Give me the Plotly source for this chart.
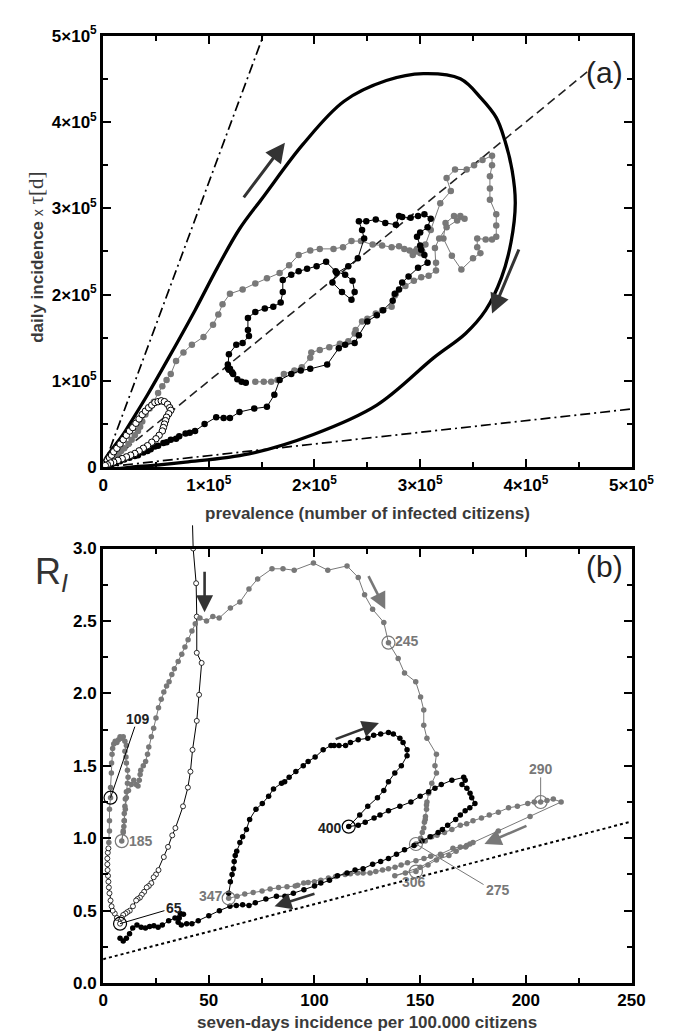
import plotly.graph_objects as go
import numpy as np

W, H = 682, 1034
FONT = "Liberation Sans, Arial, sans-serif"
GRAY = "#787878"
DARK = "#333333"

# ---------------- panel (a) data (units of 1e5) ----------------
A_SCALE = 1e5
A_TICKS = [0, 1, 2, 3, 4, 5]
A_TICKTEXT = ["0", "1×10<sup>5</sup>", "2×10<sup>5</sup>", "3×10<sup>5</sup>", "4×10<sup>5</sup>", "5×10<sup>5</sup>"]

loop_x = [0, 0.21, 0.42, 0.63, 0.87, 1.08, 1.29, 1.52, 1.89, 2.28, 2.68, 3.03, 3.38, 3.58, 3.72, 3.80, 3.87,
          3.90, 3.86, 3.77, 3.62, 3.43, 3.13, 2.59, 1.99, 1.38, 0.78, 0.33, 0]
loop_y = [0, 0.42, 0.84, 1.29, 1.82, 2.31, 2.76, 3.14, 3.74, 4.24, 4.48, 4.56, 4.50, 4.27, 4.05, 3.79, 3.44,
          3.06, 2.61, 2.20, 1.82, 1.55, 1.27, 0.72, 0.38, 0.155, 0.06, 0.01, 0]

diag_x = [0, 4.6]
diag_y = [0, 4.6]
steep_slope = 3.3
shallow_slope = 0.135

a_open_x = [0.01, 0.02, 0.04, 0.06, 0.08, 0.10, 0.13, 0.16, 0.19, 0.22, 0.25, 0.28, 0.31, 0.34, 0.37, 0.40, 0.43,
            0.46, 0.49, 0.52, 0.55, 0.58, 0.61, 0.63, 0.64, 0.62, 0.60, 0.59, 0.58, 0.57, 0.56, 0.53, 0.50, 0.46,
            0.42, 0.38, 0.34, 0.30, 0.26, 0.22, 0.18, 0.14, 0.10, 0.07, 0.04, 0.02]
a_open_y = [0.02, 0.04, 0.08, 0.11, 0.14, 0.18, 0.22, 0.27, 0.32, 0.37, 0.42, 0.46, 0.51, 0.56, 0.61, 0.65, 0.69,
            0.72, 0.75, 0.76, 0.77, 0.76, 0.73, 0.69, 0.66, 0.62, 0.58, 0.54, 0.50, 0.46, 0.42, 0.37, 0.33, 0.29,
            0.25, 0.22, 0.19, 0.16, 0.14, 0.12, 0.10, 0.08, 0.06, 0.05, 0.03, 0.02]

a_gray_x = [0.02, 0.04, 0.06, 0.08, 0.10, 0.12, 0.145, 0.17, 0.20, 0.24, 0.27, 0.30, 0.33, 0.35, 0.37, 0.40, 0.44,
            0.48, 0.52, 0.56, 0.60, 0.64, 0.69, 0.76, 0.84, 0.95, 1.04, 1.09, 1.13, 1.20, 1.32, 1.44, 1.55, 1.67,
            1.76, 1.85, 1.96, 2.05, 2.18, 2.27, 2.35, 2.44, 2.55, 2.64, 2.73, 2.80, 2.85, 2.90, 2.95, 3.00, 2.93,
            2.97, 3.02, 3.05, 3.10, 3.19, 3.29, 3.25, 3.33, 3.44, 3.51, 3.59, 3.68, 3.68, 3.66, 3.66, 3.66, 3.72,
            3.72, 3.72, 3.68, 3.62, 3.54, 3.54, 3.57, 3.50, 3.39, 3.30, 3.22, 3.24, 3.32, 3.38, 3.42, 3.35, 3.25,
            3.18, 3.14, 3.15, 3.15, 3.08, 3.01, 2.94, 2.86, 2.77, 2.76, 2.73, 2.64, 2.58, 2.50, 2.45, 2.39, 2.38,
            2.32, 2.24, 2.14, 2.05, 1.97, 1.96, 1.88, 1.81, 1.71, 1.65, 1.59, 1.52, 1.44]
a_gray_y = [0.02, 0.04, 0.06, 0.08, 0.10, 0.13, 0.155, 0.19, 0.22, 0.27, 0.32, 0.37, 0.42, 0.47, 0.53, 0.61, 0.68,
            0.76, 0.86, 0.94, 1.01, 1.08, 1.23, 1.33, 1.42, 1.51, 1.65, 1.77, 1.89, 2.01, 2.06, 2.13, 2.19, 2.25,
            2.34, 2.46, 2.51, 2.53, 2.53, 2.55, 2.62, 2.62, 2.58, 2.57, 2.55, 2.56, 2.53, 2.51, 2.50, 2.48, 2.46,
            2.53, 2.50, 2.58, 2.75, 3.06, 3.20, 3.35, 3.45, 3.45, 3.50, 3.56, 3.61, 3.50, 3.37, 3.23, 3.10, 2.93,
            2.80, 2.67, 2.64, 2.64, 2.65, 2.55, 2.48, 2.42, 2.29, 2.45, 2.65, 2.83, 2.91, 2.91, 2.88, 2.86, 2.78,
            2.65, 2.54, 2.37, 2.28, 2.22, 2.20, 2.16, 2.10, 2.01, 1.99, 1.86, 1.82, 1.78, 1.72, 1.69, 1.59, 1.55,
            1.46, 1.43, 1.39, 1.36, 1.33, 1.27, 1.16, 1.12, 1.08, 1.01, 0.99, 0.99, 0.99]

a_black_x = [0.01, 0.03, 0.05, 0.08, 0.12, 0.16, 0.20, 0.25, 0.30, 0.33, 0.38, 0.42, 0.45, 0.49, 0.52, 0.57, 0.60,
             0.64, 0.69, 0.72, 0.78, 0.82, 0.87, 0.96, 1.07, 1.14, 1.20, 1.29, 1.43, 1.55, 1.62, 1.67, 1.78, 1.87,
             1.96, 2.12, 2.23, 2.29, 2.38, 2.42, 2.50, 2.59, 2.65, 2.74, 2.76, 2.80, 2.83, 2.89, 2.98, 3.07, 3.04,
             3.01, 3.00, 2.97, 3.00, 3.07, 3.10, 3.04, 2.98, 2.91, 2.83, 2.80, 2.77, 2.67, 2.58, 2.49, 2.42, 2.45,
             2.47, 2.41, 2.32, 2.21, 2.17, 2.26, 2.35, 2.38, 2.36, 2.29, 2.20, 2.11, 2.02, 1.93, 1.85, 1.78, 1.70,
             1.70, 1.68, 1.61, 1.53, 1.44, 1.37, 1.37, 1.38, 1.32, 1.26, 1.19, 1.18, 1.18, 1.19, 1.20, 1.22, 1.23,
             1.27, 1.31, 1.35]
a_black_y = [0.01, 0.015, 0.02, 0.03, 0.05, 0.07, 0.09, 0.11, 0.13, 0.14, 0.17, 0.19, 0.21, 0.24, 0.25, 0.28, 0.29,
             0.32, 0.33, 0.36, 0.39, 0.40, 0.42, 0.50, 0.58, 0.57, 0.57, 0.64, 0.68, 0.70, 0.84, 1.01, 1.08, 1.12,
             1.14, 1.19, 1.38, 1.42, 1.44, 1.53, 1.69, 1.76, 1.82, 1.93, 2.01, 2.06, 2.14, 2.21, 2.31, 2.37, 2.46,
             2.52, 2.57, 2.67, 2.72, 2.78, 2.88, 2.93, 2.91, 2.89, 2.90, 2.91, 2.81, 2.83, 2.87, 2.85, 2.85, 2.75,
             2.65, 2.42, 2.33, 2.25, 2.14, 2.03, 1.94, 2.03, 2.16, 2.23, 2.27, 2.38, 2.33, 2.30, 2.27, 2.23, 2.17,
             2.03, 1.91, 1.86, 1.84, 1.80, 1.73, 1.59, 1.52, 1.44, 1.42, 1.31, 1.19, 1.15, 1.13, 1.14, 1.10, 1.08,
             1.02, 0.99, 0.98]

a_arrows = [((1.32, 3.11), (1.72, 3.76)), ((3.94, 2.54), (3.68, 1.78))]

# ---------------- panel (b) data ----------------
b_open_x = [42.6, 44.0, 44.3, 44.3, 46.6, 45.4, 44.3, 42.3, 41.3, 40.1, 37.8, 34.2, 32.7, 30.7, 28.7, 26.2, 25.0,
            23.9, 22.8, 21.6, 20.6, 19.4, 18.3, 17.4, 16.3, 15.6, 14.1, 12.6, 11.5, 10.6, 9.5, 8.8, 8.0, 6.5, 5.5,
            4.5, 4.0, 3.5, 3.0, 2.7, 2.5, 2.3, 2.1, 2.0, 2.0, 2.2, 2.5]
b_open_y = [3.0, 2.76, 2.53, 2.28, 2.21, 1.99, 1.81, 1.61, 1.46, 1.35, 1.22, 1.07, 1.02, 0.94, 0.87, 0.78, 0.75,
            0.73, 0.69, 0.67, 0.66, 0.63, 0.61, 0.59, 0.58, 0.57, 0.53, 0.50, 0.49, 0.48, 0.47, 0.45, 0.41, 0.45,
            0.48, 0.50, 0.53, 0.57, 0.62, 0.66, 0.70, 0.74, 0.78, 0.82, 0.86, 0.90, 0.93]

b_gray_x = [2.7, 3.0, 3.0, 3.0, 3.5, 3.5, 3.9, 4.0, 4.2, 4.5, 5.0, 5.7, 6.5, 7.3, 8.0, 8.8, 9.5, 10.3, 11.0, 10.3,
            10.8, 11.0, 11.5, 11.8, 11.5, 11.0, 10.5, 10.3, 10.0, 10.0, 9.8, 9.5, 8.8, 9.5, 10.0, 10.5, 11.0, 12.0,
            13.3, 14.5, 15.6, 16.5, 17.1, 17.5, 17.8, 19.0, 20.1, 21.0, 21.6, 22.8, 23.9, 25.0, 26.2, 27.5, 28.7,
            30.0, 31.2, 32.5, 33.7, 35.5, 37.2, 38.7, 40.2, 42.0, 43.6, 45.8, 48.9, 51.9, 54.9, 60.2, 64.7, 69.0,
            73.1, 79.9, 85.1, 90.4, 99.5, 106.3, 115.4, 120.7, 123.7, 127.5, 132.8, 135.0, 139.6, 142.6, 147.9,
            150.2, 151.7, 151.7, 153.2, 157.7, 157.0, 157.7, 155.5, 154.0, 153.2, 153.0, 153.0, 152.5, 152.4,
            152.0, 151.7, 151.0, 150.2, 148.0, 152.4, 155.5, 158.0, 161.5, 165.0, 169.0, 172.0, 175.0, 179.0,
            182.7, 187.0, 191.8, 196.0, 200.9, 204.0, 207.0, 210.0, 213.0, 216.7, 202.0, 187.0, 172.0, 160.0,
            150.0, 138.0, 143.0, 148.0, 153.7, 157.7, 163.6, 167.0, 171.5, 175.0, 173.5, 169.0, 165.5, 159.6,
            155.0, 151.8, 148.0, 144.0, 141.0, 138.1, 135.0, 132.2, 129.0, 126.3, 123.0, 120.4, 117.0, 114.5,
            110.0, 106.6, 103.0, 100.0, 97.0, 94.9, 92.0, 90.9, 87.0, 83.0, 79.0, 75.2, 71.0, 67.0, 63.4, 59.4]
b_gray_y = [0.97, 1.05, 1.12, 1.20, 1.28, 1.35, 1.45, 1.52, 1.58, 1.62, 1.65, 1.67, 1.66, 1.68, 1.70, 1.69, 1.70,
            1.67, 1.64, 1.60, 1.56, 1.52, 1.47, 1.42, 1.38, 1.32, 1.27, 1.22, 1.17, 1.12, 1.08, 1.04, 0.98, 1.05,
            1.12, 1.20, 1.28, 1.33, 1.37, 1.40, 1.37, 1.36, 1.40, 1.44, 1.47, 1.50, 1.53, 1.58, 1.63, 1.70, 1.76,
            1.83, 1.90, 1.96, 2.01, 2.05, 2.08, 2.13, 2.17, 2.22, 2.27, 2.32, 2.37, 2.43, 2.48, 2.52, 2.50, 2.53,
            2.52, 2.59, 2.63, 2.72, 2.79, 2.86, 2.86, 2.85, 2.90, 2.85, 2.88, 2.80, 2.68, 2.58, 2.49, 2.35, 2.24,
            2.14, 2.08, 1.975, 1.885, 1.78, 1.69, 1.58, 1.50, 1.45, 1.38, 1.31, 1.25, 1.23, 1.20, 1.15, 1.13, 1.11,
            1.07, 1.04, 1.00, 0.96, 0.98, 1.01, 1.02, 1.04, 1.06, 1.09, 1.10, 1.12, 1.14, 1.16, 1.18, 1.21, 1.22,
            1.24, 1.25, 1.25, 1.26, 1.27, 1.25, 1.15, 1.05, 0.95, 0.88, 0.80, 0.74, 0.76, 0.77, 0.815, 0.85, 0.88,
            0.91, 0.94, 0.97, 0.96, 0.94, 0.93, 0.89, 0.875, 0.86, 0.845, 0.83, 0.815, 0.80, 0.79, 0.78, 0.77,
            0.76, 0.76, 0.76, 0.755, 0.75, 0.735, 0.725, 0.71, 0.70, 0.695, 0.69, 0.675, 0.67, 0.665, 0.66, 0.65,
            0.635, 0.625, 0.615, 0.60, 0.585]

b_black_x = [59.4, 60.2, 61.0, 61.7, 62.0, 62.5, 63.2, 64.7, 66.0, 67.8, 69.3, 72.3, 75.3, 78.3, 80.6, 84.4, 85.9,
             88.0, 91.2, 94.7, 97.0, 100.3, 104.1, 107.8, 109.3, 111.6, 114.7, 117.0, 120.7, 125.2, 128.0, 131.3,
             135.0, 137.3, 140.4, 141.9, 143.8, 143.8, 141.1, 138.0, 135.0, 132.8, 129.8, 125.2, 121.4, 116.2,
             120.7, 124.0, 128.2, 131.0, 135.0, 140.4, 145.6, 150.0, 154.0, 157.0, 160.0, 165.0, 170.6, 171.3,
             169.8, 172.1, 173.6, 174.4, 175.9, 173.5, 171.3, 169.0, 166.8, 163.0, 160.5, 158.5, 154.7, 150.9,
             147.1, 142.6, 138.8, 135.0, 131.3, 127.5, 123.0, 119.2, 115.4, 110.9, 107.1, 103.0, 100.0, 95.0,
             90.0, 86.0, 82.0, 77.0, 72.0, 69.0, 66.0, 63.0, 60.0, 55.0, 50.0, 45.0, 42.0, 39.5, 37.0, 35.5, 36.0,
             38.0, 36.5, 34.0, 31.0, 28.0, 26.0, 24.0, 22.0, 20.0, 18.0, 16.0, 14.0, 12.5, 11.0, 9.5, 8.0]
b_black_y = [0.62, 0.70, 0.75, 0.79, 0.84, 0.88, 0.91, 0.97, 1.01, 1.06, 1.13, 1.20, 1.24, 1.29, 1.34, 1.38, 1.39,
             1.42, 1.46, 1.50, 1.53, 1.56, 1.61, 1.64, 1.64, 1.64, 1.64, 1.66, 1.68, 1.69, 1.71, 1.72, 1.73, 1.72,
             1.69, 1.66, 1.61, 1.57, 1.50, 1.45, 1.39, 1.33, 1.28, 1.22, 1.16, 1.08, 1.09, 1.11, 1.14, 1.16, 1.19,
             1.22, 1.25, 1.29, 1.32, 1.345, 1.37, 1.40, 1.42, 1.40, 1.37, 1.345, 1.31, 1.28, 1.24, 1.21, 1.19,
             1.16, 1.13, 1.09, 1.06, 1.04, 1.01, 0.98, 0.95, 0.92, 0.89, 0.86, 0.84, 0.82, 0.79, 0.78, 0.76, 0.74,
             0.71, 0.69, 0.67, 0.645, 0.62, 0.60, 0.60, 0.58, 0.555, 0.535, 0.54, 0.535, 0.53, 0.50, 0.465, 0.43,
             0.41, 0.41, 0.40, 0.42, 0.45, 0.475, 0.48, 0.45, 0.43, 0.40, 0.385, 0.395, 0.39, 0.38, 0.385, 0.40,
             0.38, 0.34, 0.31, 0.29, 0.31]

day_labels = ["65", "109", "185", "245", "275", "290", "306", "347", "400"]
day_x = [8.0, 3.5, 8.8, 135.0, 148.0, 207.0, 148.0, 59.4, 116.2]
day_y = [0.41, 1.28, 0.98, 2.35, 0.96, 1.25, 0.77, 0.585, 1.08]
day_gray = [False, False, True, True, True, True, True, True, False]
label_x = [33.4, 16.5, 18.0, 144.0, 187.0, 207.0, 147.0, 51.0, 107.3]
label_y = [0.52, 1.82, 0.98, 2.36, 0.64, 1.475, 0.695, 0.60, 1.07]
leader_end = {"65": (29.0, 0.50), "109": (15.0, 1.77), "275": (180.0, 0.68), "290": (207.0, 1.42)}

dotted_x = [0, 250]
dotted_intercept, dotted_slope = 0.165, 0.0038

b_arrows = [((48.0, 2.85), (48.0, 2.56), DARK), ((125.2, 2.82), (133.5, 2.58), GRAY),
            ((109.3, 1.68), (130.5, 1.795), DARK), ((201.0, 1.09), (180.4, 0.96), GRAY),
            ((100.7, 0.62), (81.1, 0.53), DARK)]

# ---------------- layout geometry ----------------
XL, XR = 94 / W, 645 / W
A_DOM = [(H - 457) / H, (H - 16) / H]
B_DOM = [(H - 984) / H, (H - 540) / H]

fig = go.Figure()

def sc(arr):
    return list(np.array(arr) * A_SCALE)

DASHDOT = "10px,4px,2px,4px"
# panel (a)
fig.add_trace(go.Scatter(x=sc([0, 5.0 / steep_slope]), y=sc([0, 5.0]), mode="lines",
                         line=dict(color="black", width=1.7, dash=DASHDOT), xaxis="x", yaxis="y"))
fig.add_trace(go.Scatter(x=sc([0, 5.0]), y=sc([0, 5.0 * shallow_slope]), mode="lines",
                         line=dict(color="black", width=1.7, dash=DASHDOT), xaxis="x", yaxis="y"))
fig.add_trace(go.Scatter(x=sc(diag_x), y=sc(diag_y), mode="lines",
                         line=dict(color="#222", width=1.6, dash="9px,5px"), xaxis="x", yaxis="y"))
fig.add_trace(go.Scatter(x=sc(loop_x), y=sc(loop_y), mode="lines",
                         line=dict(color="black", width=3.3, shape="spline", smoothing=1.0), xaxis="x", yaxis="y"))
fig.add_trace(go.Scatter(x=sc(a_gray_x), y=sc(a_gray_y), mode="lines+markers",
                         line=dict(color=GRAY, width=1), marker=dict(color=GRAY, size=6.5),
                         xaxis="x", yaxis="y"))
fig.add_trace(go.Scatter(x=sc(a_black_x), y=sc(a_black_y), mode="lines+markers",
                         line=dict(color="black", width=1), marker=dict(color="black", size=6.5),
                         xaxis="x", yaxis="y"))
fig.add_trace(go.Scatter(x=sc(a_open_x), y=sc(a_open_y), mode="lines+markers",
                         line=dict(color="black", width=0.8),
                         marker=dict(color="white", size=6.5, line=dict(color="black", width=1)),
                         xaxis="x", yaxis="y"))

# panel (b)
fig.add_trace(go.Scatter(x=dotted_x, y=[dotted_intercept + dotted_slope * v for v in dotted_x], mode="lines",
                         line=dict(color="black", width=2, dash="dot"), xaxis="x2", yaxis="y2"))
fig.add_trace(go.Scatter(x=b_open_x, y=b_open_y, mode="lines+markers",
                         line=dict(color="black", width=1),
                         marker=dict(color="white", size=5, line=dict(color="black", width=0.8)),
                         xaxis="x2", yaxis="y2"))
fig.add_trace(go.Scatter(x=b_gray_x, y=b_gray_y, mode="lines+markers",
                         line=dict(color=GRAY, width=1), marker=dict(color=GRAY, size=5.5),
                         xaxis="x2", yaxis="y2"))
fig.add_trace(go.Scatter(x=b_black_x, y=b_black_y, mode="lines+markers",
                         line=dict(color="black", width=1), marker=dict(color="black", size=5.5),
                         xaxis="x2", yaxis="y2"))
fig.add_trace(go.Scatter(x=day_x, y=day_y, mode="markers",
                         marker=dict(size=13, color="rgba(0,0,0,0)",
                                     line=dict(color=[GRAY if g else "black" for g in day_gray], width=1.2)),
                         xaxis="x2", yaxis="y2", cliponaxis=False))

shapes = []
ypx = lambda v: B_DOM[0] + (B_DOM[1] - B_DOM[0]) * v / 3.0
shapes.append(dict(type="line", xref="x2", yref="paper", x0=42.6, y0=ypx(3.0), x1=42.3, y1=ypx(3.16),
                   line=dict(color="black", width=1)))
for lab, (ex, ey) in leader_end.items():
    i = day_labels.index(lab)
    shapes.append(dict(type="line", xref="x2", yref="y2", x0=day_x[i], y0=day_y[i], x1=ex, y1=ey,
                       line=dict(color=GRAY if day_gray[i] else "black", width=1)))

annotations = []
for i, lab in enumerate(day_labels):
    annotations.append(dict(x=label_x[i], y=label_y[i], xref="x2", yref="y2", text=f"<b>{lab}</b>",
                            showarrow=False, xanchor="center", yanchor="middle",
                            font=dict(family=FONT, size=14, color=GRAY if day_gray[i] else "#222")))
for (x0, y0), (x1, y1) in a_arrows:
    annotations.append(dict(x=x1 * A_SCALE, y=y1 * A_SCALE, ax=x0 * A_SCALE, ay=y0 * A_SCALE, xref="x", yref="y",
                            axref="x", ayref="y", text="", showarrow=True, arrowhead=2, arrowsize=1.3,
                            arrowwidth=3, arrowcolor=DARK))
for (x0, y0), (x1, y1), col in b_arrows:
    annotations.append(dict(x=x1, y=y1, ax=x0, ay=y0, xref="x2", yref="y2", axref="x2", ayref="y2",
                            text="", showarrow=True, arrowhead=2, arrowsize=1.3, arrowwidth=2.6, arrowcolor=col))

TITLE_FONT = dict(family=FONT, size=17, color="#3a3a3a", weight="bold")
def pnote(xp, yp, text, font, **kw):
    d = dict(x=xp / W, y=(H - yp) / H, xref="paper", yref="paper", showarrow=False, text=text, font=font,
             xanchor="center", yanchor="middle")
    d.update(kw)
    return d

annotations += [
    pnote((94 + 645) / 2, 504, "prevalence (number of infected citizens)", TITLE_FONT),
    pnote((94 + 645) / 2, 1024, "seven-days incidence per 100.000 citizens", TITLE_FONT),
    pnote(24, 243, "<b>daily incidence</b> <span style='font-size:14px'>x</span> "
                   "<span style='font-family:Liberation Serif, serif;font-size:21px'>τ[d]</span>",
          dict(family=FONT, size=17, color="#3a3a3a"), textangle=-90),
    pnote(40, 566, "R<sub><i>I</i></sub>", dict(family=FONT, size=36, color="#333")),
    pnote(638, 54, "(a)", dict(family=FONT, size=30, color="#222"), xanchor="right"),
    pnote(638, 558, "(b)", dict(family=FONT, size=30, color="#222"), xanchor="right"),
]

def axis(**kw):
    d = dict(showline=True, linewidth=3, linecolor="black", mirror="allticks", ticks="inside", ticklen=8,
             tickwidth=2, tickcolor="black", showgrid=False, zeroline=False,
             tickfont=dict(family=FONT, size=17, color="black", weight="bold"),
             minor=dict(ticks="inside", ticklen=5, tickwidth=2, tickcolor="black", showgrid=False))
    d.update(kw)
    return d

fig.update_layout(
    width=W, height=H, margin=dict(l=0, r=0, t=0, b=0), autosize=False,
    paper_bgcolor="white", plot_bgcolor="white", showlegend=False,
    xaxis=axis(domain=[XL, XR], anchor="y", range=[0, 5e5], tickvals=sc(A_TICKS), ticktext=A_TICKTEXT,
               minor_tickvals=sc([0.5, 1.5, 2.5, 3.5, 4.5])),
    yaxis=axis(domain=A_DOM, anchor="x", range=[0, 5e5], tickvals=sc(A_TICKS), ticktext=A_TICKTEXT,
               minor_tickvals=sc([0.5, 1.5, 2.5, 3.5, 4.5])),
    xaxis2=axis(domain=[XL, XR], anchor="y2", range=[0, 250], tickvals=[0, 50, 100, 150, 200, 250],
                minor_tickvals=[25, 75, 125, 175, 225]),
    yaxis2=axis(domain=B_DOM, anchor="x2", range=[0, 3], tickvals=[0, 0.5, 1, 1.5, 2, 2.5, 3],
                ticktext=["0.0", "0.5", "1.0", "1.5", "2.0", "2.5", "3.0"],
                minor_tickvals=[0.25, 0.75, 1.25, 1.75, 2.25, 2.75]),
    shapes=shapes, annotations=annotations,
)

fig.write_html("out.html")
